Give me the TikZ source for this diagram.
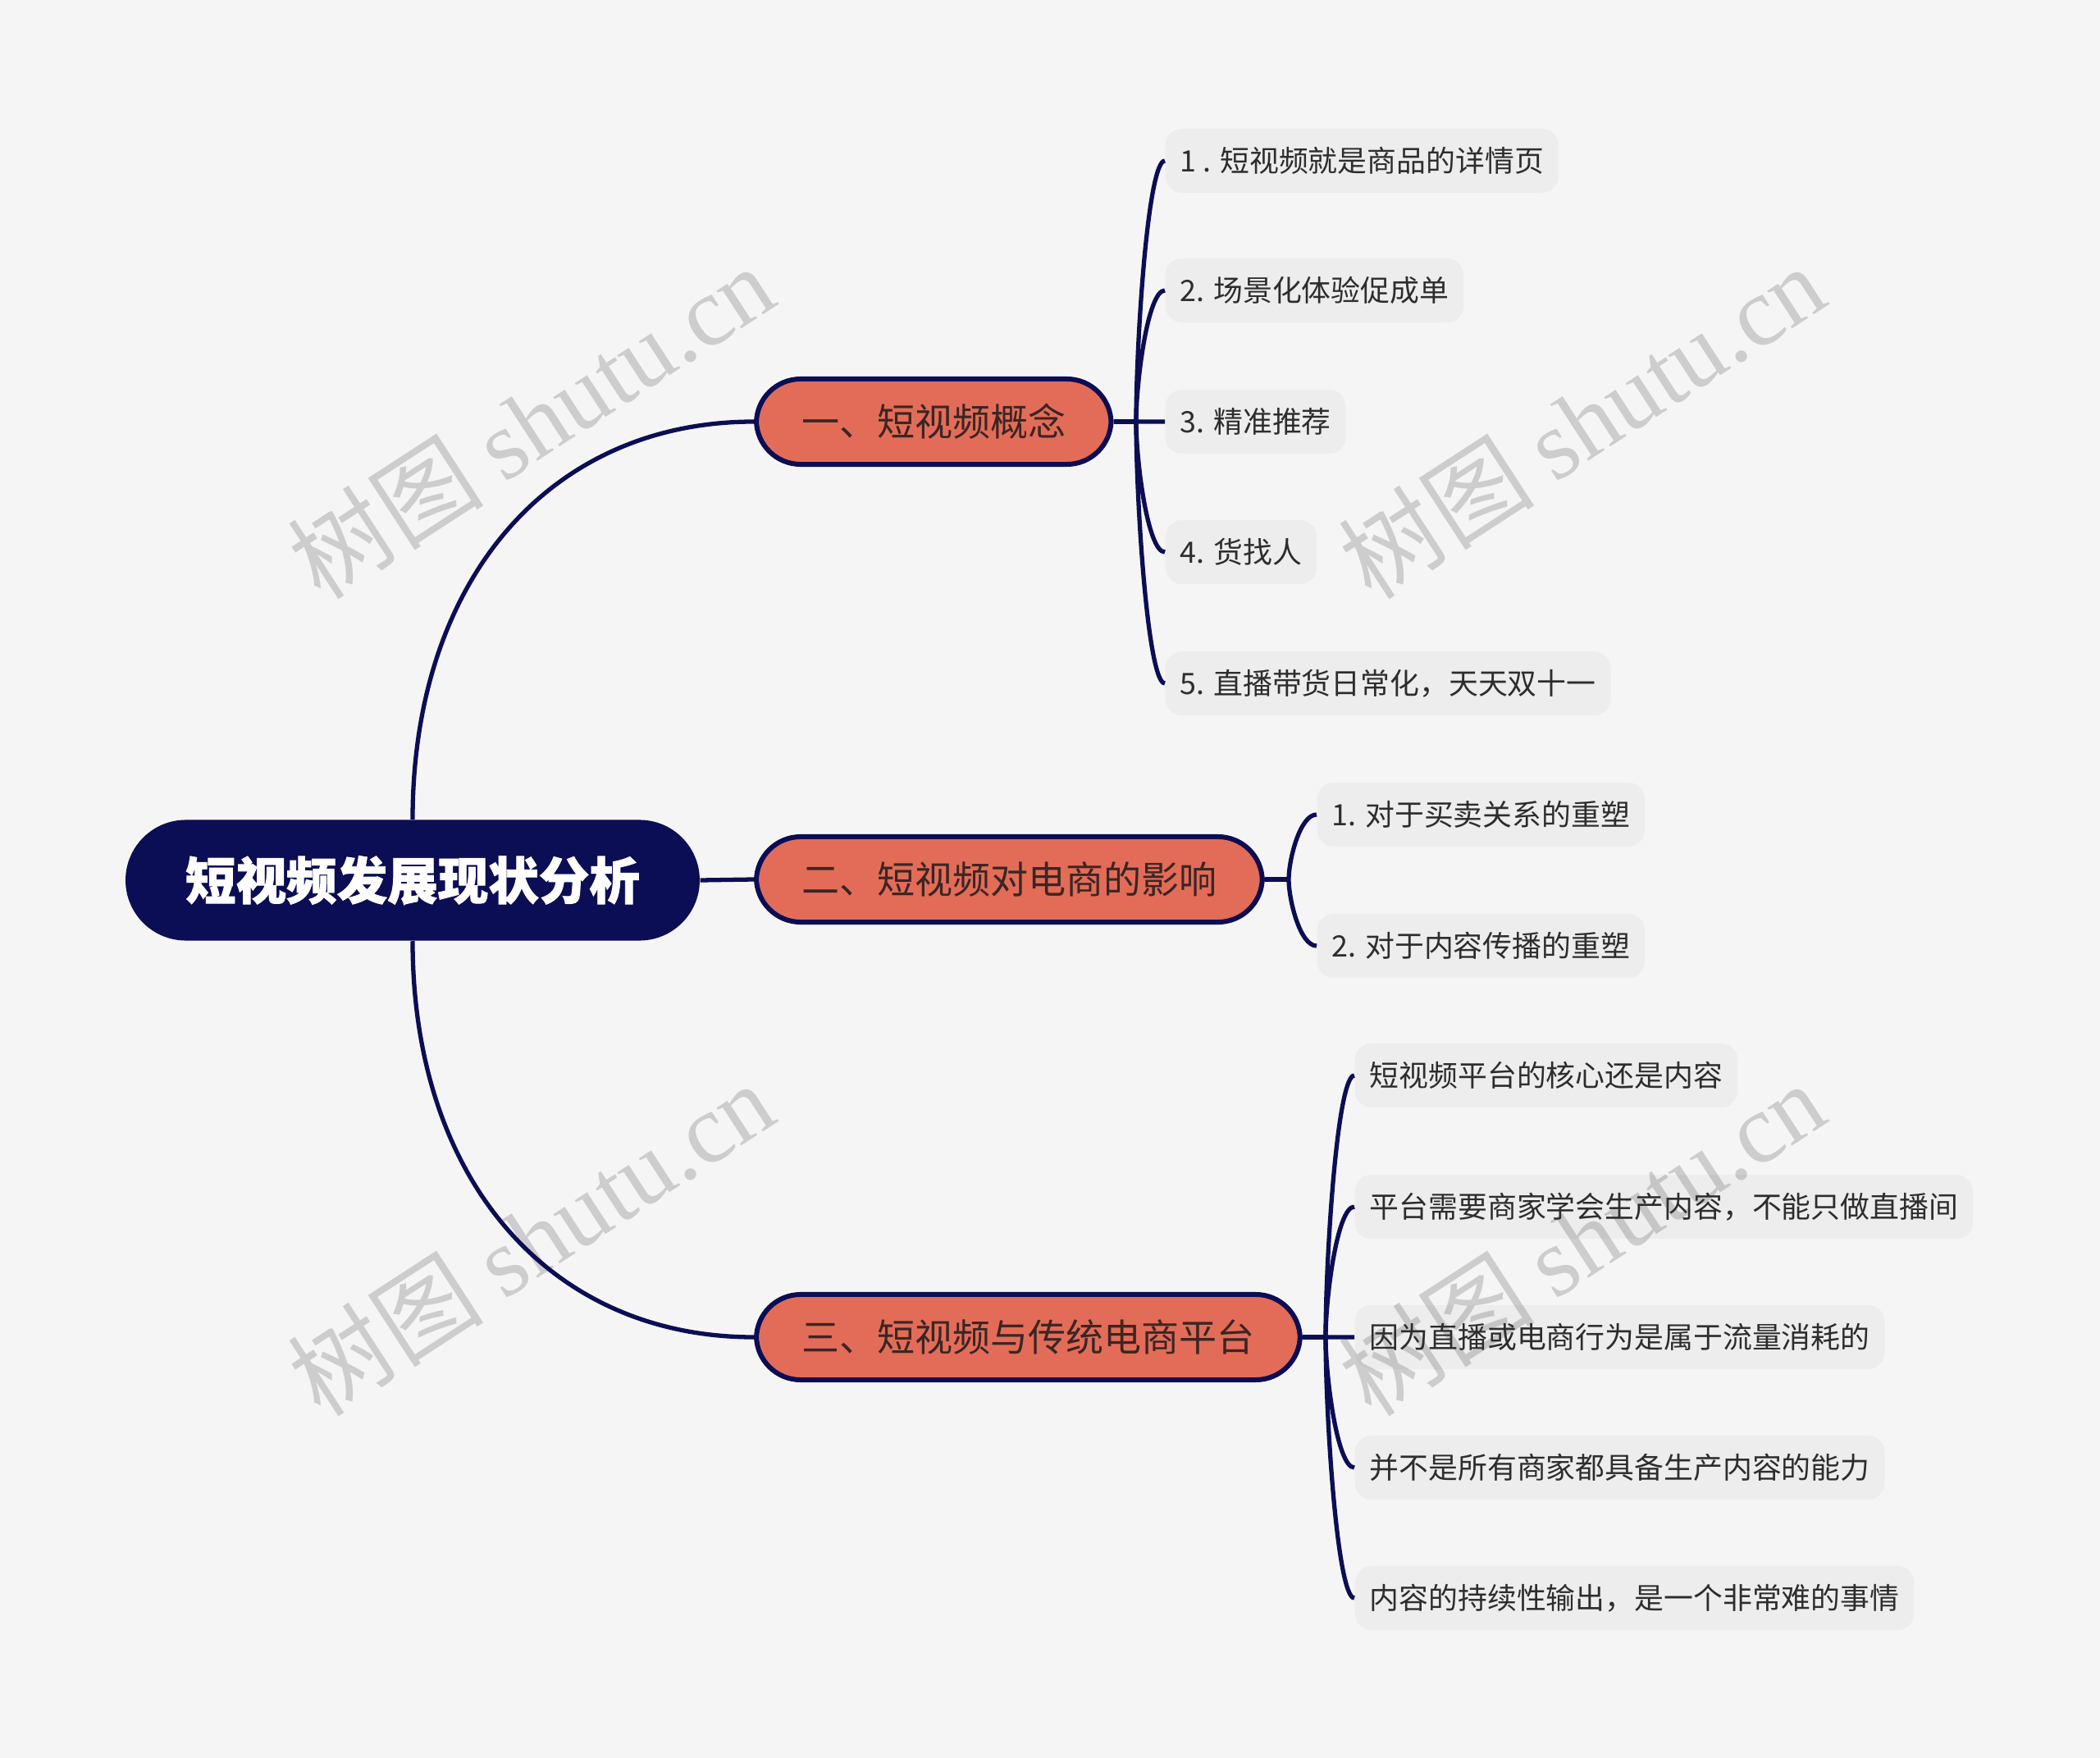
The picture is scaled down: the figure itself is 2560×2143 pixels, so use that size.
\documentclass[tikz,border=0pt]{standalone}
\usepackage{fontspec}
\usepackage{tikz}
\usetikzlibrary{calc}
\setmainfont{Noto Sans CJK SC}
\newfontfamily\heavyfont[BoldFeatures={FakeBold=1.4}]{Noto Sans CJK SC}
\newfontfamily\wmlatin{Liberation Serif}

\definecolor{navy}{RGB}{11,14,84}
\definecolor{salmon}{RGB}{227,108,88}
\definecolor{bgcol}{RGB}{245,245,245}
\definecolor{leaftext}{RGB}{45,45,45}
\definecolor{brtext}{RGB}{58,38,36}
\definecolor{wmgray}{RGB}{205,205,205}

\begin{document}
\begin{tikzpicture}[x=0.01cm,y=-0.01cm,
  root/.style={fill=navy,text=white,rounded corners=0.735cm,minimum height=1.47cm,
    inner xsep=0.73cm,font=\heavyfont\fontsize{17.5}{20}\selectfont\bfseries},
  branch/.style={fill=salmon,draw=navy,line width=1.7pt,text=brtext,anchor=west,
    rounded corners=0.54cm,minimum height=1.04cm,inner xsep=0.55cm,
    font=\fontsize{13.1}{16}\selectfont},
  leaf/.style={fill=black,fill opacity=0.03,text opacity=1,text=leaftext,anchor=west,
    rounded corners=0.2cm,minimum height=0.78cm,inner xsep=0.18cm,
    font=\fontsize{10.2}{12}\selectfont},
  link/.style={draw=navy,line width=1.5pt},
  wm/.style={text=wmgray,rotate=33,font=\fontsize{34}{38}\selectfont}]

\useasboundingbox (0,0) rectangle (2560,2143);
\fill[bgcol] (0,0) rectangle (2560,2143);

% watermarks
\node[wm] (wm1) at ( 647, 514) {树图 {\wmlatin shutu.cn}};
\node[wm] (wm2) at (1928, 514) {树图 {\wmlatin shutu.cn}};
\node[wm] (wm3) at ( 647,1510) {树图 {\wmlatin shutu.cn}};
\node[wm] (wm4) at (1928,1510) {树图 {\wmlatin shutu.cn}};

% topics
\node[root] (r) at (503,1073) {短视频发展现状分析};
\node[branch] (b1) at (919, 514) {一、短视频概念};
\node[branch] (b2) at (919,1072) {二、短视频对电商的影响};
\node[branch] (b3) at (919,1630) {三、短视频与传统电商平台};

\coordinate (h1) at (1385, 514);
\coordinate (h2) at (1571,1072);
\coordinate (h3) at (1616,1630);

% leaves
\foreach \i/\y/\t in {1/196/{1 . 短视频就是商品的详情页},2/354/{2. 场景化体验促成单},
    3/514/{3. 精准推荐},4/673/{4. 货找人},5/833/{5. 直播带货日常化，天天双十一}}
  {\node[leaf] (l1-\i) at (1420,\y) {\t};}

\foreach \i/\y/\t in {1/993/{1. 对于买卖关系的重塑},2/1153/{2. 对于内容传播的重塑}}
  {\node[leaf] (l2-\i) at (1605,\y) {\t};}

\foreach \i/\y/\t in {1/1311/{短视频平台的核心还是内容},2/1471/{平台需要商家学会生产内容，不能只做直播间},
    3/1630/{因为直播或电商行为是属于流量消耗的},4/1789/{并不是所有商家都具备生产内容的能力},
    5/1948/{内容的持续性输出，是一个非常难的事情}}
  {\node[leaf] (l3-\i) at (1651,\y) {\t};}

% connectors
\draw[link] (r.north) .. controls ($(r.north)!0.6!(r.north|-b1.west)$)
   and ($(b1.west)!0.6!(r.north|-b1.west)$) .. (b1.west);
\draw[link] (r.east) -- (b2.west);
\draw[link] (r.south) .. controls ($(r.south)!0.6!(r.south|-b3.west)$)
   and ($(b3.west)!0.6!(r.south|-b3.west)$) .. (b3.west);

\draw[link] (b1.east) -- (h1);
\draw[link] (b2.east) -- (h2);
\draw[link] (b3.east) -- (h3);

\foreach \i in {1,...,5}
  {\draw[link] (h1) .. controls ($(h1)!0.3!(h1|-l1-\i.west)$)
     and ($(l1-\i.west)!0.6!(h1|-l1-\i.west)$) .. (l1-\i.west);
   \draw[link] (h3) .. controls ($(h3)!0.3!(h3|-l3-\i.west)$)
     and ($(l3-\i.west)!0.6!(h3|-l3-\i.west)$) .. (l3-\i.west);}

\foreach \i in {1,2}
  {\draw[link] (h2) .. controls ($(h2)!0.3!(h2|-l2-\i.west)$)
     and ($(l2-\i.west)!0.6!(h2|-l2-\i.west)$) .. (l2-\i.west);}

\end{tikzpicture}
\end{document}
